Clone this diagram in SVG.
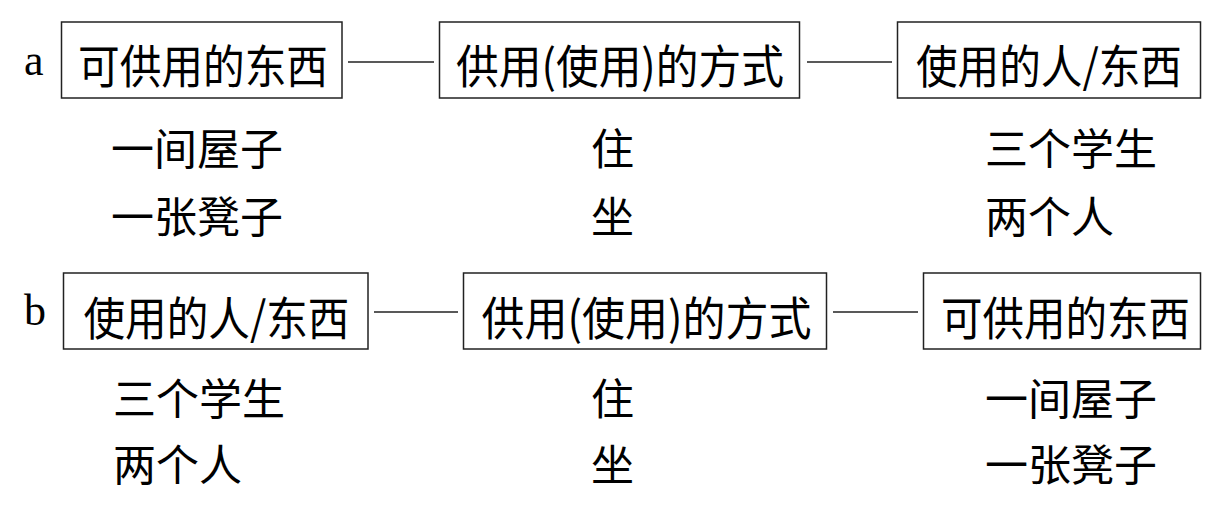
<svg xmlns="http://www.w3.org/2000/svg" width="1217" height="509" viewBox="0 0 1217 509">
<style>
.box{fill:#fff;stroke:#222;stroke-width:1.5}
.lt{font-family:"Noto Sans CJK SC","Noto Sans",sans-serif;font-size:46px;fill:#000;text-anchor:middle}
.it{font-family:"Noto Sans CJK SC","Noto Sans",sans-serif;font-size:43px;fill:#000}
.lab{font-family:"Liberation Serif","DejaVu Serif",serif;font-size:44px;fill:#000}
.con{stroke:#222;stroke-width:1.3;fill:none}
</style>
<rect width="1217" height="509" fill="#fff"/>
<text class="lab" x="24" y="75">a</text>
<text class="lab" x="24" y="325">b</text>
<g id="connectors">
<line class="con" x1="348" y1="62" x2="434" y2="62"/>
<line class="con" x1="807" y1="62" x2="892" y2="62"/>
<line class="con" x1="374" y1="312" x2="458" y2="312"/>
<line class="con" x1="833" y1="312" x2="918" y2="312"/>
</g>
<g id="a1"><rect class="box" x="61.5" y="22" width="280.5" height="76"/><text class="lt" x="203" y="83" textLength="250" lengthAdjust="spacingAndGlyphs">可供用的东西</text></g>
<g id="a2"><rect class="box" x="439.5" y="22" width="360" height="76"/><text class="lt" x="620" y="83" textLength="328" lengthAdjust="spacingAndGlyphs">供用(使用)的方式</text></g>
<g id="a3"><rect class="box" x="897.5" y="22" width="303" height="76"/><text class="lt" x="1049" y="83" textLength="266" lengthAdjust="spacingAndGlyphs">使用的人/东西</text></g>
<g id="b1"><rect class="box" x="63.5" y="273" width="304.5" height="76"/><text class="lt" x="216.5" y="335" textLength="266" lengthAdjust="spacingAndGlyphs">使用的人/东西</text></g>
<g id="b2"><rect class="box" x="463.5" y="273" width="363" height="76"/><text class="lt" x="646.5" y="335" textLength="330" lengthAdjust="spacingAndGlyphs">供用(使用)的方式</text></g>
<g id="b3"><rect class="box" x="923.5" y="273" width="277" height="76"/><text class="lt" x="1065.5" y="335" textLength="249" lengthAdjust="spacingAndGlyphs">可供用的东西</text></g>
<g id="a-items">
<text class="it" x="111" y="165">一间屋子</text>
<text class="it" x="111" y="233">一张凳子</text>
<text class="it" x="591" y="165">住</text>
<text class="it" x="591" y="233">坐</text>
<text class="it" x="985" y="165">三个学生</text>
<text class="it" x="985" y="233">两个人</text>
</g>
<g id="b-items">
<text class="it" x="113" y="415">三个学生</text>
<text class="it" x="113" y="481">两个人</text>
<text class="it" x="591" y="415">住</text>
<text class="it" x="591" y="481">坐</text>
<text class="it" x="985" y="415">一间屋子</text>
<text class="it" x="985" y="481">一张凳子</text>
</g>
</svg>
